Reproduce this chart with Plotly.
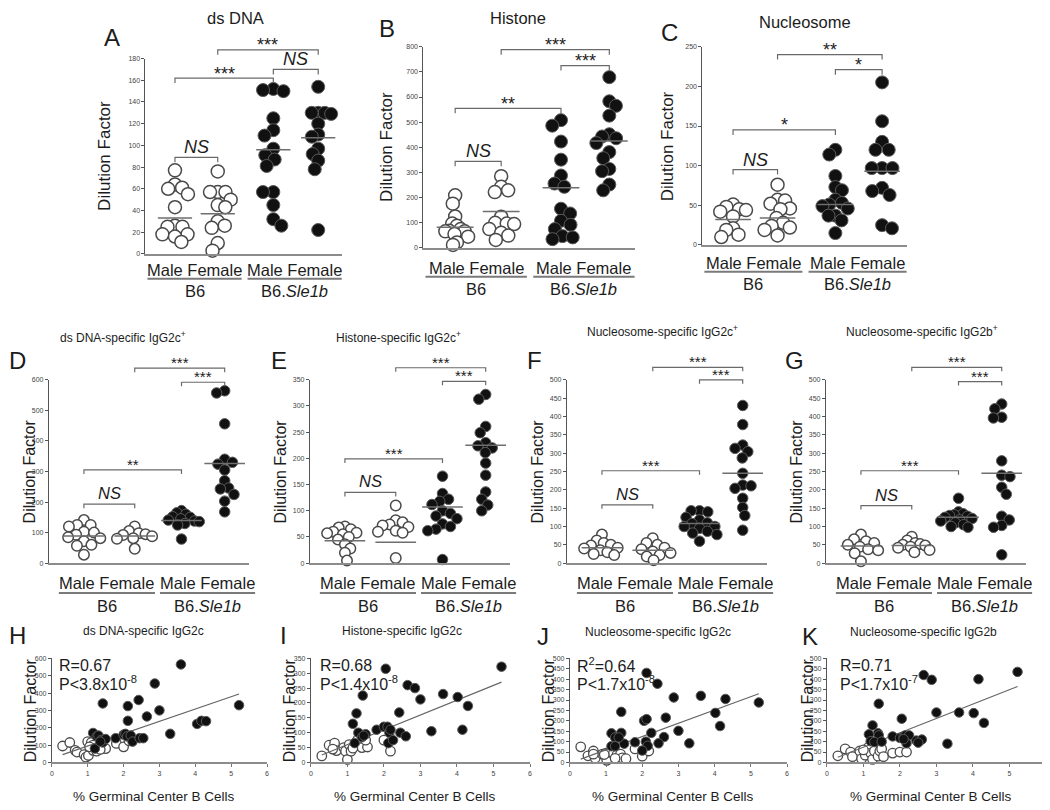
import numpy as np
import plotly.graph_objects as go

# ======================= DATA =======================
group_labels = ["Male Female", "Male Female"]
strain_labels = ["B6", "B6.<i>Sle1b</i>"]

# A  ds DNA
dsdna_male_b6 = [77, 64, 61, 60, 55, 43, 26, 25, 25, 18, 18, 16, 11]
dsdna_female_b6 = [76, 57, 57, 57, 50, 45, 43, 30, 26, 24, 10, 3]
dsdna_male_sle1b = [152, 151, 150, 125, 114, 109, 97, 91, 87, 81, 57, 57, 45, 32, 26]
dsdna_female_sle1b = [154, 130, 130, 130, 129, 120, 110, 108, 97, 92, 86, 78, 22]
dsdna_lines = [33, 37, 96, 107]
dsdna_brackets = [(0, 1, 89, "NS"), (0, 2, 162, "***"), (2, 3, 170, "NS"), (1, 3, 188, "***")]

# B  Histone
histone_male_b6 = [209, 176, 125, 97, 88, 75, 68, 66, 66, 55, 45, 22, 12]
histone_female_b6 = [285, 243, 229, 222, 124, 100, 97, 95, 75, 60, 49, 32]
histone_male_sle1b = [508, 486, 423, 351, 288, 256, 243, 156, 137, 108, 92, 75, 47, 42, 35]
histone_female_sle1b = [679, 583, 565, 526, 452, 443, 436, 417, 381, 357, 314, 305, 252, 229]
histone_lines = [82, 145, 239, 425]
histone_brackets = [(0, 1, 344, "NS"), (0, 2, 555, "**"), (2, 3, 725, "***"), (1, 3, 788, "***")]

# C  Nucleosome
nucleosome_male_b6 = [51, 48, 45, 44, 42, 36, 21, 19, 13, 10]
nucleosome_female_b6 = [76, 57, 56, 52, 46, 45, 34, 28, 24, 22, 19, 12]
nucleosome_male_sle1b = [120, 114, 87, 73, 69, 57, 53, 51, 49, 46, 37, 37, 31, 15]
nucleosome_female_sle1b = [205, 156, 130, 120, 120, 97, 97, 97, 72, 68, 63, 25, 21]
nucleosome_lines = [32, 34, 51, 93]
nucleosome_brackets = [(0, 1, 95, "NS"), (0, 2, 145, "*"), (2, 3, 221, "*"), (1, 3, 240, "**")]

# D  ds DNA-specific IgG2c+
dna_igg2c_male_b6 = [141, 125, 125, 120, 103, 100, 93, 85, 82, 72, 60, 57, 28]
dna_igg2c_female_b6 = [120, 105, 98, 95, 92, 88, 82, 80, 47]
dna_igg2c_male_sle1b = [172, 165, 160, 152, 150, 145, 141, 138, 136, 130, 125, 79]
dna_igg2c_female_sle1b = [564, 557, 456, 340, 330, 324, 305, 270, 246, 243, 225, 203, 168]
dna_igg2c_lines = [89, 89, 140, 326]
dna_igg2c_brackets = [(0, 1, 193, "NS"), (0, 2, 305, "**"), (2, 3, 592, "***"), (1, 3, 638, "***")]

# E  Histone-specific IgG2c+
his_igg2c_male_b6 = [70, 68, 65, 60, 58, 57, 55, 50, 45, 36, 28, 20, 5]
his_igg2c_female_b6 = [110, 82, 78, 74, 72, 69, 62, 60, 58, 10]
his_igg2c_male_sle1b = [166, 133, 122, 118, 112, 100, 95, 90, 85, 75, 70, 65, 62, 7]
his_igg2c_female_sle1b = [322, 313, 261, 249, 230, 224, 220, 211, 191, 168, 136, 122, 111, 100]
his_igg2c_lines = [43, 40, 107, 225]
his_igg2c_brackets = [(0, 1, 135, "NS"), (0, 2, 199, "***"), (2, 3, 347, "***"), (1, 3, 373, "***")]

# F  Nucleosome-specific IgG2c+
nuc_igg2c_male_b6 = [78, 62, 55, 50, 48, 42, 40, 35, 30, 25, 22]
nuc_igg2c_female_b6 = [68, 55, 50, 42, 38, 32, 28, 22, 18, 8]
nuc_igg2c_male_sle1b = [143, 143, 140, 125, 118, 110, 108, 100, 100, 95, 87, 82, 78, 60]
nuc_igg2c_female_sle1b = [430, 378, 322, 313, 304, 287, 245, 213, 211, 204, 177, 152, 130, 90]
nuc_igg2c_lines = [42, 35, 108, 245]
nuc_igg2c_brackets = [(0, 1, 159, "NS"), (0, 2, 252, "***"), (2, 3, 500, "***"), (1, 3, 534, "***")]

# G  Nucleosome-specific IgG2b+
nuc_igg2b_male_b6 = [78, 65, 60, 55, 50, 45, 38, 35, 27, 5]
nuc_igg2b_female_b6 = [72, 62, 55, 52, 50, 48, 45, 42, 36, 30]
nuc_igg2b_male_sle1b = [177, 140, 135, 132, 130, 128, 125, 122, 118, 115, 110, 105, 100, 98]
nuc_igg2b_female_sle1b = [434, 421, 398, 396, 279, 240, 236, 207, 188, 128, 118, 103, 98, 23]
nuc_igg2b_lines = [47, 48, 125, 245]
nuc_igg2b_brackets = [(0, 1, 157, "NS"), (0, 2, 252, "***"), (2, 3, 495, "***"), (1, 3, 534, "***")]

# H-K  correlation with % germinal centre B cells
h_sle1b_x = [3.6, 2.87, 1.42, 2.42, 2.12, 3.0, 2.65, 2.12, 5.22, 4.05, 4.17, 4.3, 3.3, 1.15, 1.25, 1.3, 1.38, 1.42, 1.5, 1.78, 2.0, 2.05, 2.1, 2.2, 2.25, 2.45, 2.55, 1.2, 1.35]
h_sle1b_y = [565, 455, 340, 360, 325, 300, 265, 240, 330, 222, 240, 238, 165, 170, 150, 155, 130, 115, 135, 140, 160, 165, 150, 155, 120, 140, 140, 80, 120]
h_b6_x = [0.3, 0.5, 0.65, 0.7, 0.9, 0.95, 1.0, 1.02, 1.1, 1.15, 1.25, 1.3, 1.4, 1.5, 1.15, 1.8, 2.0, 2.15, 1.05, 1.35]
h_b6_y = [95, 115, 70, 60, 45, 30, 120, 40, 115, 70, 65, 90, 100, 80, 100, 110, 90, 125, 90, 75]
h_fit = (23.7, 71.1)   # intercept, slope

i_sle1b_x = [2.05, 5.22, 1.42, 2.65, 2.85, 3.0, 3.62, 4.02, 4.3, 2.42, 1.25, 1.15, 1.3, 1.4, 1.5, 1.8, 2.0, 2.1, 2.15, 2.12, 2.25, 2.45, 2.6, 3.3, 4.15, 1.2, 1.45, 2.18]
i_sle1b_y = [315, 322, 225, 260, 250, 212, 230, 220, 190, 168, 165, 130, 100, 85, 95, 110, 120, 120, 100, 65, 75, 100, 88, 105, 110, 65, 90, 110]
i_b6_x = [0.3, 0.5, 0.65, 0.7, 0.9, 0.95, 1.0, 1.05, 1.1, 1.2, 1.25, 1.3, 1.4, 1.55, 1.5, 2.0, 2.18, 1.15, 0.6]
i_b6_y = [22, 58, 65, 40, 50, 38, 10, 60, 38, 55, 70, 80, 50, 52, 75, 75, 38, 48, 45]
i_fit = (10.1, 49.8)

j_sle1b_x = [2.12, 2.42, 2.87, 3.62, 4.3, 5.22, 4.02, 4.15, 1.42, 2.05, 2.12, 2.65, 3.0, 3.3, 2.25, 2.6, 1.15, 1.25, 1.42, 1.5, 1.8, 2.1, 2.15, 2.0, 2.45, 1.15, 1.25, 1.35]
j_sle1b_y = [430, 378, 312, 320, 305, 288, 238, 175, 243, 200, 208, 215, 152, 92, 142, 122, 140, 120, 142, 90, 97, 100, 80, 57, 92, 78, 78, 120]
j_b6_x = [0.3, 0.5, 0.65, 0.7, 0.9, 1.0, 1.02, 1.1, 1.2, 1.3, 1.4, 1.45, 1.55, 1.8, 2.0, 2.18, 0.65, 1.25, 0.95]
j_b6_y = [75, 32, 55, 20, 40, 45, 10, 50, 42, 35, 40, 22, 18, 65, 30, 55, 40, 20, 38]
j_fit = (-3.0, 63.8)

k_sle1b_x = [2.65, 2.87, 4.15, 5.22, 1.42, 3.0, 3.62, 4.02, 4.3, 2.05, 1.25, 1.15, 1.4, 1.42, 1.2, 1.3, 1.5, 1.8, 2.0, 2.1, 2.15, 2.25, 2.18, 2.45, 2.6, 2.5, 3.3, 2.1]
k_sle1b_y = [420, 397, 400, 435, 282, 240, 240, 237, 190, 210, 178, 135, 140, 130, 102, 98, 100, 125, 118, 125, 130, 130, 92, 105, 110, 95, 90, 112]
k_b6_x = [0.3, 0.5, 0.65, 0.7, 0.9, 0.95, 1.05, 1.1, 1.15, 1.2, 1.25, 1.3, 1.4, 1.45, 1.5, 1.55, 1.8, 2.0, 2.18, 1.0]
k_b6_y = [32, 65, 50, 28, 55, 18, 35, 62, 75, 45, 15, 55, 30, 55, 65, 28, 45, 50, 50, 60]
k_fit = (4.3, 69.1)

# ======================= LAYOUT HELPERS =======================
FIG_W, FIG_H = 1050, 810
FONT = "Liberation Sans, Arial, Helvetica, sans-serif"
TXT = "#1c1c1c"


def fx(p):
    return p / FIG_W


def fy(p):
    return 1 - p / FIG_H


fig = go.Figure()
axes = {}
annotations = []
shapes = []


def sfx(n):
    return "" if n == 1 else str(n)


def text(x, y, s, size, xanchor="center", yanchor="middle", angle=0, color=TXT):
    annotations.append(dict(xref="paper", yref="paper", x=fx(x), y=fy(y), text=s,
                            showarrow=False, xanchor=xanchor, yanchor=yanchor,
                            textangle=angle, borderpad=0,
                            font=dict(family=FONT, size=size, color=color)))


def hline(x0, x1, y, color="#7a7a7a", width=2):
    shapes.append(dict(type="line", xref="paper", yref="paper", x0=fx(x0), x1=fx(x1),
                       y0=fy(y), y1=fy(y), line=dict(color=color, width=width)))


def swarm(vals, yscale, dmin, maxw):
    """Deterministic beeswarm offsets (pixels), compressed to +-maxw."""
    v = np.asarray(vals, float) * yscale
    order = np.argsort(-v, kind="stable")
    placed = []
    offs = np.zeros(len(v))
    tol = 1e-3 * dmin ** 2
    for idx, i in enumerate(order):
        y = v[i]
        cands = [0.0]
        for (xj, yj) in placed:
            dy = abs(y - yj)
            if dy < dmin:
                dx = (dmin ** 2 - dy ** 2) ** 0.5
                cands.extend([xj + dx, xj - dx])
        sgn = 1 if idx % 2 else -1
        cands = sorted(cands, key=lambda c: (round(abs(c), 4), sgn * c))
        chosen = cands[-1]
        for c in cands:
            if all((c - xj) ** 2 + (y - yj) ** 2 >= dmin ** 2 - tol for xj, yj in placed):
                chosen = c
                break
        offs[i] = chosen
        placed.append((chosen, y))
    m = np.max(np.abs(offs)) if len(offs) else 0
    if m > maxw:
        offs = offs * (maxw / m)
    return offs


TOP = dict(pos=[1, 2, 3.3, 4.35], xr=[0.31, 4.9], msize=13, pack=0.8, spread=1.0, star=18, ns=18,
           tick=5, btop=2, title=16.5, ytitle=17, spans=[(0.01, 0.49), (0.52, 1.0)],
           ns_shift=10, star_shift=4.5)
MID = dict(pos=[1, 2, 2.92, 3.77], xr=[0.31, 4.25], msize=10.5, pack=0.8, spread=1.7, star=15, ns=16.5,
           tick=4, btop=338, title=12, ytitle=16, spans=[(0.05, 0.53), (0.555, 1.03)],
           ns_shift=11, star_shift=5.5)

dot_specs = [
    dict(row=TOP, letter="A", lpos=(102, 26), title="ds DNA", tpos=(226, 6), ytx=95,
         xdom=(136, 333), ybot=244, ytop=47, ymax=180, dtick=20, laby=(260, 269, 281),
         groups=[dsdna_male_b6, dsdna_female_b6, dsdna_male_sle1b, dsdna_female_sle1b],
         lines=dsdna_lines, brackets=dsdna_brackets),
    dict(row=TOP, letter="B", lpos=(378, 17), title="Histone", tpos=(510, 6), ytx=378,
         xdom=(415, 627), ybot=238, ytop=35, ymax=800, dtick=100, laby=(258, 267, 279),
         groups=[histone_male_b6, histone_female_b6, histone_male_sle1b, histone_female_sle1b],
         lines=histone_lines, brackets=histone_brackets),
    dict(row=TOP, letter="C", lpos=(662, 21), title="Nucleosome", tpos=(798, 10), ytx=660,
         xdom=(695, 900), ybot=235, ytop=35, ymax=250, dtick=50, laby=(253, 262, 274),
         groups=[nucleosome_male_b6, nucleosome_female_b6, nucleosome_male_sle1b, nucleosome_female_sle1b],
         lines=nucleosome_lines, brackets=nucleosome_brackets),
    dict(row=MID, letter="D", lpos=(8, 352), title="ds DNA-specific IgG2c<sup>+</sup>", tpos=(113, 328), ytx=20,
         xdom=(39, 240), ybot=556, ytop=371, ymax=600, dtick=100, laby=(576, 586, 599),
         groups=[dna_igg2c_male_b6, dna_igg2c_female_b6, dna_igg2c_male_sle1b, dna_igg2c_female_sle1b],
         lines=dna_igg2c_lines, brackets=dna_igg2c_brackets),
    dict(row=MID, letter="E", lpos=(270, 352), title="Histone-specific IgG2c<sup>+</sup>", tpos=(390, 328), ytx=272,
         xdom=(301, 502), ybot=556, ytop=371, ymax=350, dtick=50, laby=(576, 586, 599),
         groups=[his_igg2c_male_b6, his_igg2c_female_b6, his_igg2c_male_sle1b, his_igg2c_female_sle1b],
         lines=his_igg2c_lines, brackets=his_igg2c_brackets),
    dict(row=MID, letter="F", lpos=(527, 352), title="Nucleosome-specific IgG2c<sup>+</sup>", tpos=(655, 322), ytx=530,
         xdom=(559, 760), ybot=556, ytop=371, ymax=500, dtick=50, laby=(576, 586, 599),
         groups=[nuc_igg2c_male_b6, nuc_igg2c_female_b6, nuc_igg2c_male_sle1b, nuc_igg2c_female_sle1b],
         lines=nuc_igg2c_lines, brackets=nuc_igg2c_brackets),
    dict(row=MID, letter="G", lpos=(788, 352), title="Nucleosome-specific IgG2b<sup>+</sup>", tpos=(915, 322), ytx=790,
         xdom=(819, 1020), ybot=556, ytop=371, ymax=500, dtick=50, laby=(576, 586, 599),
         groups=[nuc_igg2b_male_b6, nuc_igg2b_female_b6, nuc_igg2b_male_sle1b, nuc_igg2b_female_sle1b],
         lines=nuc_igg2b_lines, brackets=nuc_igg2b_brackets),
]

scatter_specs = [
    dict(letter="H", lpos=(8, 629), title="ds DNA-specific IgG2c", tpos=(134, 624), ytx=20,
         xdom=(42, 258), ymax=600, dtick=100, r="R=0.67", p="P&lt;3.8x10<sup>-8</sup>", rx=48,
         sx=h_sle1b_x, sy=h_sle1b_y, bx=h_b6_x, by=h_b6_y, fit=h_fit),
    dict(letter="I", lpos=(275, 629), title="Histone-specific IgG2c", tpos=(394, 624), ytx=280,
         xdom=(302, 522), ymax=350, dtick=50, r="R=0.68", p="P&lt;1.4x10<sup>-8</sup>", rx=310,
         sx=i_sle1b_x, sy=i_sle1b_y, bx=i_b6_x, by=i_b6_y, fit=i_fit),
    dict(letter="J", lpos=(535, 630), title="Nucleosome-specific IgG2c", tpos=(650, 625), ytx=540,
         xdom=(562, 780), ymax=500, dtick=50, r="R<sup>2</sup>=0.64", p="P&lt;1.7x10<sup>-8</sup>", rx=568,
         sx=j_sle1b_x, sy=j_sle1b_y, bx=j_b6_x, by=j_b6_y, fit=j_fit),
    dict(letter="K", lpos=(803, 630), title="Nucleosome-specific IgG2b", tpos=(917, 625), ytx=800,
         xdom=(820, 1040), ymax=500, dtick=50, r="R=0.71", p="P&lt;1.7x10<sup>-7</sup>", rx=832,
         sx=k_sle1b_x, sy=k_sle1b_y, bx=k_b6_x, by=k_b6_y, fit=k_fit),
]

YAX_COMMON = dict(showline=True, linecolor="#555555", linewidth=1, ticks="outside", ticklen=3,
                  tickcolor="#555555", tickwidth=1, showgrid=False, zeroline=False,
                  tickfont=dict(family=FONT, size=7, color="#444444"))
XLINE = dict(showline=True, linecolor="#8c8c8c", linewidth=2, showgrid=False, zeroline=False)

# ======================= DOT PANELS =======================
for k, sp in enumerate(dot_specs):
    row = sp["row"]
    n = k + 1
    s = sfx(n)
    x0p, x1p = sp["xdom"]
    xr = row["xr"]
    R = sp["ymax"]
    xscale = (x1p - x0p) / (xr[1] - xr[0])
    yscale = (sp["ybot"] - sp["ytop"]) / R
    axes["xaxis" + s] = dict(domain=[fx(x0p), fx(x1p)], range=xr, anchor="y" + s,
                             ticks="", showticklabels=False, **XLINE)
    axes["yaxis" + s] = dict(domain=[fy(sp["ybot"]), fy(sp["ytop"])], range=[0, R], anchor="x" + s,
                             tickvals=list(range(0, R + 1, sp["dtick"])), **YAX_COMMON)
    # overlay axis for significance brackets (same data scale, taller domain)
    bn = 12 + k
    bdom = [fy(sp["ybot"]), fy(row["btop"])]
    Rb = R * (bdom[1] - bdom[0]) / (fy(sp["ytop"]) - fy(sp["ybot"]))
    axes["yaxis%d" % bn] = dict(domain=bdom, range=[0, Rb], anchor="x" + s, visible=False)

    pos = row["pos"]
    msz = row["msize"]
    for g, vals in enumerate(sp["groups"]):
        offs = swarm(vals, yscale, msz * row["pack"], msz * row["spread"]) / xscale
        filled = g >= 2
        fig.add_trace(go.Scatter(
            x=np.array(pos[g]) + offs, y=vals, mode="markers", xaxis="x" + s, yaxis="y" + s,
            cliponaxis=False, hoverinfo="skip",
            marker=dict(size=msz, color="#111111" if filled else "white",
                        line=dict(color="#5a5a5a" if filled else "#4a4a4a", width=1 if filled else 1.5))))
    for g, m in enumerate(sp["lines"]):
        fig.add_trace(go.Scatter(x=[pos[g] - 0.4, pos[g] + 0.4], y=[m, m], mode="lines",
                                 xaxis="x" + s, yaxis="y" + s, hoverinfo="skip",
                                 line=dict(color="#6e6e6e", width=1.5)))
    tick = row["tick"] / yscale
    for (g0, g1, lev, lab) in sp["brackets"]:
        xa, xb = pos[g0], pos[g1]
        fig.add_trace(go.Scatter(x=[xa, xa, xb, xb], y=[lev - tick, lev, lev, lev - tick], mode="lines",
                                 xaxis="x" + s, yaxis="y%d" % bn, hoverinfo="skip",
                                 line=dict(color="#6a6a6a", width=1.2)))
        is_ns = lab == "NS"
        annotations.append(dict(
            x=(xa + xb) / 2, y=lev, xref="x" + s, yref="y%d" % bn, showarrow=False,
            text="<i>NS</i>" if is_ns else lab, yanchor="middle", xanchor="center",
            yshift=row["ns_shift"] if is_ns else row["star_shift"],
            font=dict(family=FONT, size=row["ns"] if is_ns else row["star"], color=TXT)))

    # texts
    text(sp["lpos"][0], sp["lpos"][1], sp["letter"], 24)
    text(sp["tpos"][0], sp["tpos"][1], sp["title"], row["title"])
    text(sp["ytx"], (sp["ybot"] + sp["ytop"]) / 2, "Dilution Factor", row["ytitle"], angle=-90)
    ly, uy, sy = sp["laby"]
    wid = x1p - x0p
    for j, (a, b) in enumerate(row["spans"]):
        xa, xb = x0p + a * wid, x0p + b * wid
        hline(xa, xb, uy)
        text((xa + xb) / 2, ly, group_labels[j], 16.5)
        text((xa + xb) / 2, sy, strain_labels[j], 16.5)

# ======================= SCATTER PANELS =======================
YB, YT = 757, 652
for k, sp in enumerate(scatter_specs):
    n = 8 + k
    s = sfx(n)
    x0p, x1p = sp["xdom"]
    R = sp["ymax"]
    axes["xaxis" + s] = dict(domain=[fx(x0p), fx(x1p)], range=[0, 6], anchor="y" + s,
                             tickvals=list(range(0, 7)), ticks="outside", ticklen=3, tickcolor="#777777",
                             tickfont=dict(family=FONT, size=7, color="#444444"), **XLINE)
    axes["yaxis" + s] = dict(domain=[fy(YB), fy(YT)], range=[0, R], anchor="x" + s,
                             tickvals=list(range(0, R + 1, sp["dtick"])), **YAX_COMMON)
    fig.add_trace(go.Scatter(x=sp["bx"], y=sp["by"], mode="markers", xaxis="x" + s, yaxis="y" + s,
                             cliponaxis=False, hoverinfo="skip",
                             marker=dict(size=9.5, color="white", line=dict(color="#4a4a4a", width=1.3))))
    allx = list(sp["sx"]) + list(sp["bx"])
    xl = np.array([min(allx), max(allx)])
    b0, b1 = sp["fit"]
    fig.add_trace(go.Scatter(x=xl, y=b0 + b1 * xl, mode="lines", xaxis="x" + s, yaxis="y" + s,
                             hoverinfo="skip", line=dict(color="#666666", width=1.2)))
    fig.add_trace(go.Scatter(x=sp["sx"], y=sp["sy"], mode="markers", xaxis="x" + s, yaxis="y" + s,
                             cliponaxis=False, hoverinfo="skip",
                             marker=dict(size=9.5, color="#111111", line=dict(color="#5a5a5a", width=1))))
    text(sp["lpos"][0], sp["lpos"][1], sp["letter"], 24)
    text(sp["tpos"][0], sp["tpos"][1], sp["title"], 12)
    text(sp["ytx"], (YB + YT) / 2, "Dilution Factor", 16, angle=-90)
    text((x0p + x1p) / 2 - 5, 791, "% Germinal Center B Cells", 13.5)
    text(sp["rx"], 659, sp["r"], 16, xanchor="left")
    text(sp["rx"], 677, sp["p"], 16, xanchor="left")

fig.update_layout(width=FIG_W, height=FIG_H, margin=dict(l=0, r=0, t=0, b=0, pad=0),
                  paper_bgcolor="white", plot_bgcolor="rgba(0,0,0,0)", showlegend=False,
                  annotations=annotations, shapes=shapes, **axes)
fig.write_html("out.html", include_plotlyjs=True, config={"displayModeBar": False})
